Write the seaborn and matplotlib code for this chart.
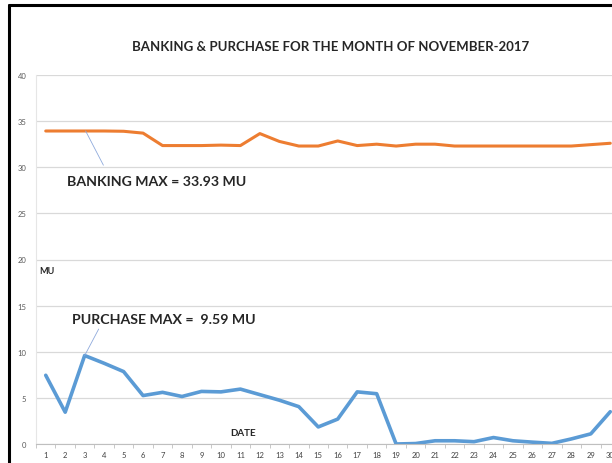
import matplotlib
matplotlib.use('Agg')
import matplotlib.pyplot as plt
import seaborn as sns
import pandas as pd

days = list(range(1, 31))
banking = [33.93, 33.93, 33.93, 33.93, 33.9, 33.7, 32.35, 32.35, 32.35, 32.4, 32.35,
           33.65, 32.8, 32.3, 32.3, 32.85, 32.35, 32.5, 32.3, 32.5, 32.5, 32.3,
           32.3, 32.3, 32.3, 32.3, 32.3, 32.3, 32.45, 32.6]
purchase = [7.45, 3.45, 9.59, 8.75, 7.85, 5.25, 5.6, 5.15, 5.7, 5.65, 5.95,
            5.35, 4.75, 4.05, 1.85, 2.7, 5.65, 5.45, 0.0, 0.05, 0.35, 0.35,
            0.25, 0.7, 0.35, 0.2, 0.07, 0.55, 1.1, 3.5]

df = pd.DataFrame({'day': days, 'banking': banking, 'purchase': purchase})

sns.set_style('white')
plt.rcParams['font.family'] = ['Lato', 'DejaVu Sans']

fig = plt.figure(figsize=(6.12, 4.64), dpi=100)
ax = fig.add_axes([36 / 612, 19 / 464, 584 / 612, 369 / 464])

sns.lineplot(data=df, x='day', y='banking', color='#ED7D31', linewidth=2.2, ax=ax)
sns.lineplot(data=df, x='day', y='purchase', color='#5B9BD5', linewidth=2.6, ax=ax)

ax.set_xlim(0.5, 30.5)
ax.set_ylim(0, 40)
ax.set_yticks(range(0, 41, 5))
ax.set_xticks(days)
ax.set_xticks([d + 0.5 for d in range(0, 31)], minor=True)
ax.grid(axis='y', color='#d9d9d9', linewidth=0.9)
ax.set_axisbelow(True)
ax.tick_params(axis='y', labelsize=5.5, labelcolor='#595959', length=0, pad=7)
ax.tick_params(axis='x', which='major', labelsize=5.5, labelcolor='#404040', length=0, pad=5)
ax.tick_params(axis='x', which='minor', length=3, color='#bfbfbf', bottom=True)
for s in ['top', 'right']:
    ax.spines[s].set_visible(False)
ax.spines['bottom'].set_color('#bfbfbf')
ax.spines['left'].set_color('#e6e6e6')
ax.set_xlabel('')
ax.set_ylabel('')

# max callouts
ax.annotate('BANKING MAX = 33.93 MU', xy=(3.05, 33.93), xytext=(6.7, 28.55),
            fontsize=10.2, fontweight='bold', color='#262626',
            ha='center', va='center',
            arrowprops=dict(arrowstyle='-', color='#8faadc', linewidth=0.6,
                            relpos=(0.23, 1.0), shrinkA=5, shrinkB=0))
ax.annotate('PURCHASE MAX =  9.59 MU', xy=(3.0, 9.59), xytext=(7.05, 13.6),
            fontsize=10.2, fontweight='bold', color='#262626',
            ha='center', va='center',
            arrowprops=dict(arrowstyle='-', color='#8faadc', linewidth=0.6,
                            relpos=(0.16, 0.0), shrinkA=1, shrinkB=0))

fig.text(47 / 612, 1 - 272 / 464, 'MU', fontsize=6.5, fontweight='bold',
         color='#262626', ha='center', va='center')
fig.text(243 / 612, 1 - 434 / 464, 'DATE', fontsize=7, fontweight='bold',
         color='#262626', ha='center', va='center')
fig.text(331 / 612, 1 - 47 / 464, 'BANKING & PURCHASE FOR THE MONTH OF NOVEMBER-2017',
         fontsize=9.5, fontweight='bold', color='#262626', ha='center', va='center')

# screenshot frame
fig.add_artist(plt.Line2D([9 / 612, 9 / 612], [0, 1 - 6 / 464], color='black',
                          linewidth=2.2, transform=fig.transFigure))
fig.add_artist(plt.Line2D([9 / 612, 1], [1 - 6 / 464, 1 - 6 / 464], color='black',
                          linewidth=2.2, transform=fig.transFigure))

fig.savefig('out.png', dpi=100)
